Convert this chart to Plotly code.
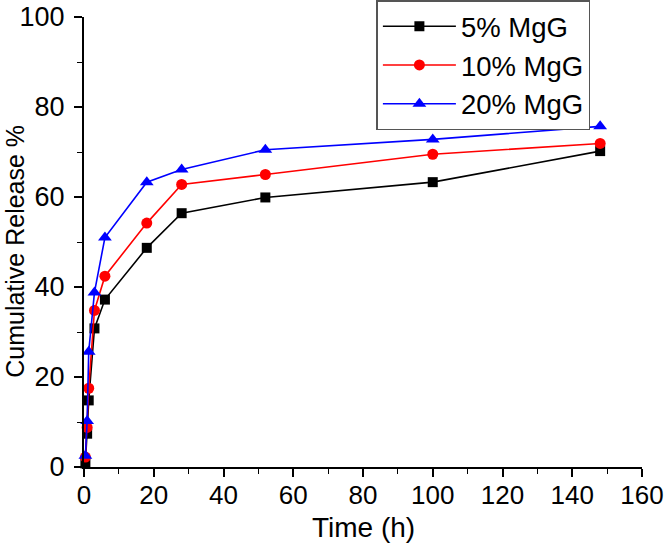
import plotly.graph_objects as go

time_h = [0.4, 0.9, 1.35, 3, 6, 18, 28, 52, 100, 148]
mgg_5 = [0.8, 7.4, 14.8, 30.8, 37.2, 48.7, 56.4, 59.9, 63.3, 70.2]
mgg_10 = [2.2, 8.8, 17.5, 34.8, 42.4, 54.2, 62.8, 65.0, 69.5, 71.9]
mgg_20 = [2.5, 10.2, 25.6, 38.8, 51.0, 63.3, 66.1, 70.5, 72.8, 75.7]
names = ["5% MgG", "10% MgG", "20% MgG"]

FONT = "Liberation Sans, Arial, sans-serif"

fig = go.Figure()
fig.add_trace(go.Scatter(x=time_h, y=mgg_5, name=names[0], mode="lines+markers",
                         line=dict(color="#000000", width=1.6),
                         marker=dict(symbol="square", size=10, color="#000000"),
                         cliponaxis=False))
fig.add_trace(go.Scatter(x=time_h, y=mgg_10, name=names[1], mode="lines+markers",
                         line=dict(color="#FF0000", width=1.6),
                         marker=dict(symbol="circle", size=11, color="#FF0000"),
                         cliponaxis=False))
fig.add_trace(go.Scatter(x=time_h, y=mgg_20, name=names[2], mode="lines+markers",
                         line=dict(color="#0000FF", width=1.6),
                         marker=dict(symbol="triangle-up", size=12, color="#0000FF"),
                         cliponaxis=False))

axis_common = dict(
    showline=True, linecolor="#000000", linewidth=2,
    ticks="outside", ticklen=8, tickwidth=1.6, tickcolor="#000000",
    showgrid=False, zeroline=False, mirror=False, automargin=False,
)
minor_common = dict(ticks="outside", ticklen=5, tickwidth=1.4, tickcolor="#000000",
                    dtick=10, tick0=0, showgrid=False)

fig.update_xaxes(range=[0, 160], tickvals=[0, 20, 40, 60, 80, 100, 120, 140, 160],
                 minor=minor_common, ticklabelstandoff=-4,
                 tickfont=dict(family=FONT, size=26, color="#000000"),
                 **axis_common)
fig.update_yaxes(range=[0, 100], tickvals=[0, 20, 40, 60, 80, 100],
                 minor=minor_common, ticklabelstandoff=4,
                 tickfont=dict(family=FONT, size=27, color="#000000"),
                 **axis_common)

fig.add_annotation(text="Time (h)", xref="paper", yref="paper", x=0.5, y=-0.135,
                   xanchor="center", yanchor="middle", showarrow=False,
                   font=dict(family=FONT, size=28, color="#000000"))
fig.add_annotation(text="Cumulative Release %", xref="paper", yref="paper",
                   x=-0.124, y=0.48, textangle=-90,
                   xanchor="center", yanchor="middle", showarrow=False,
                   font=dict(family=FONT, size=25, color="#000000"))

fig.update_layout(
    width=669, height=556,
    margin=dict(l=84, r=27, t=17, b=89, autoexpand=False),
    paper_bgcolor="#FFFFFF", plot_bgcolor="#FFFFFF",
    showlegend=True,
    legend=dict(x=0.524, y=1.037, xanchor="left", yanchor="top",
                bordercolor="#555555", borderwidth=1.5, bgcolor="#FFFFFF",
                font=dict(family=FONT, size=27.5, color="#000000"),
                itemwidth=73),
)

fig.write_html("out.html",
               config={"displayModeBar": False},
               post_script="document.body.style.margin='0';document.body.style.padding='0';")
